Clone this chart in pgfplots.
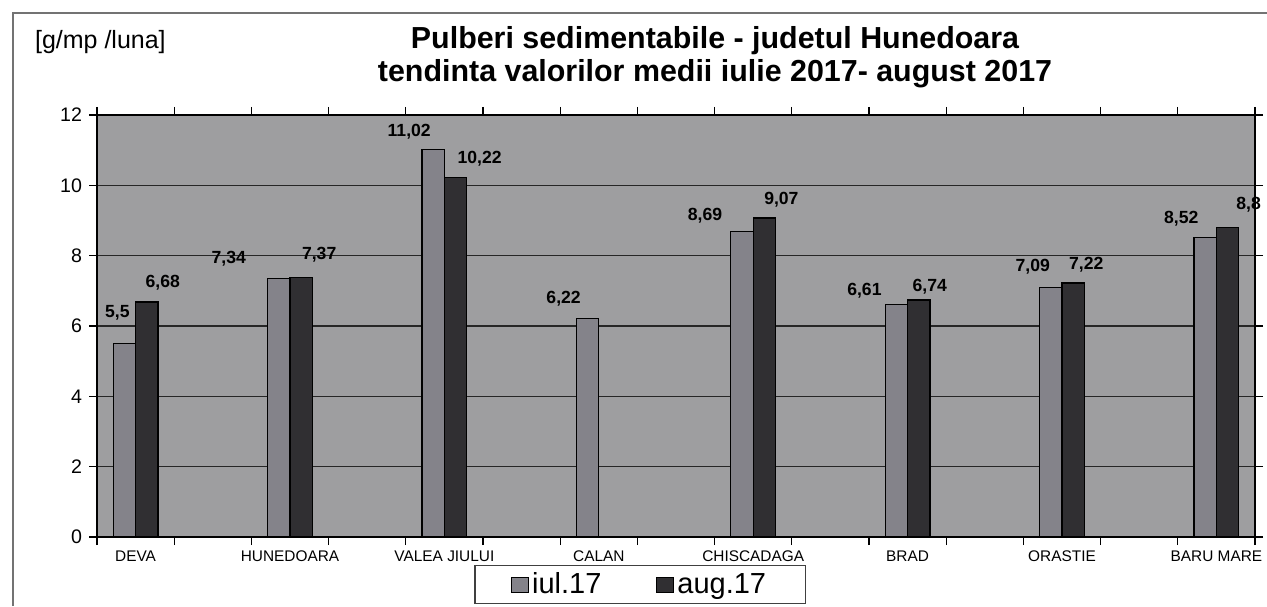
\documentclass[border=0pt]{standalone}
\usepackage{fontspec}
\setmainfont{Liberation Sans}
\usepackage{pgfplots}
\usepackage{pgfplotstable}
\pgfplotsset{compat=1.18}

\definecolor{plotbg}{RGB}{158,158,160}
\definecolor{iulfill}{RGB}{132,131,138}
\definecolor{augfill}{RGB}{48,47,50}

% x = slot (15 slots, bars on even ones); dx, dy = label offset in px
\pgfplotstableread{
x  y     dx   dy
0  5.50  -7   29
2  7.34  -50  18
4  11.02 -24  16
6  6.22  -24  17
8  8.69  -37  14
10 6.61  -32  12
12 7.09  -18  19
14 8.52  -24  17
}\iul
\pgfplotstableread{
x  y     dx   dy
0  6.68  16   17
2  7.37  18   21
4  10.22 24   17
8  9.07  17   16
10 6.74  11   11
12 7.22  13   16
14 8.80  21   21
}\aug

\begin{document}
\begin{tikzpicture}
\useasboundingbox (0,0) rectangle (633.5pt,303pt);
\draw[black!55, line width=0.6pt] (6.5pt,0) -- (6.5pt,296.5pt) -- (633.5pt,296.5pt);
\node[anchor=west, font=\fontsize{12.5}{14}\selectfont] at (14pt,282pt) {[g/mp /luna]};
\node[align=center, font=\bfseries\fontsize{15.2}{16.5}\selectfont] at (357.5pt,274.5pt)
  {Pulberi sedimentabile - judetul Hunedoara\\tendinta valorilor medii iulie 2017- august 2017};
\begin{axis}[
    at={(48.5pt,34.5pt)}, anchor=south west,
    scale only axis, width=579pt, height=211pt,
    xmin=-0.5, xmax=14.5, ymin=0, ymax=12,
    ybar, bar width=0.29,
    axis background/.style={fill=plotbg},
    axis line style={black, line width=0.7pt},
    ymajorgrids, major grid style={black!85, line width=0.7pt},
    ytick={0,2,...,12},
    xtick={-0.5,0.5,...,14.5}, xticklabels={},
    extra x ticks={0,2,...,14},
    extra x tick labels={DEVA,HUNEDOARA,VALEA JIULUI,CALAN,CHISCADAGA,BRAD,ORASTIE,BARU MARE},
    extra x tick style={major tick length=0pt, grid=none},
    tick align=outside, major tick length=4pt,
    tick style={black, line width=0.6pt},
    x tick label style={font=\fontsize{7.7}{9}\selectfont, yshift=-3.5pt},
    y tick label style={font=\fontsize{9.8}{11}\selectfont},
    /pgf/number format/assume math mode=true,
    nodes near coords={\pgfmathprintnumber[use comma,precision=2,assume math mode=true]{\pgfplotspointmeta}},
    visualization depends on={\thisrow{dx} \as \dx},
    visualization depends on={\thisrow{dy} \as \dy},
    every node near coord/.append style={font=\bfseries\fontsize{8.8}{10}\selectfont,
      inner sep=0pt, anchor=south, xshift=\dx*0.5pt, yshift=\dy*0.5pt-3pt},
    legend columns=2,
    legend style={at={(0.469,0)}, anchor=north, yshift=-14pt, draw=black!75, line width=0.6pt,
      font=\fontsize{14.5}{16}\selectfont, inner xsep=18pt, inner ysep=2pt,
      nodes={inner sep=1.5pt},
      /tikz/every even column/.append style={column sep=26pt}},
    legend image code/.code={\draw[#1, draw=black, line width=0.5pt] (0pt,-3.8pt) rectangle (8.5pt,3.8pt);},
]
\addplot[fill=iulfill, draw=black, line width=0.6pt, bar shift=-0.145] table[x=x, y=y] {\iul};
\addplot[fill=augfill, draw=black, line width=0.6pt, bar shift=0.145] table[x=x, y=y] {\aug};
\legend{iul.17, aug.17}
\end{axis}
\end{tikzpicture}
\end{document}
